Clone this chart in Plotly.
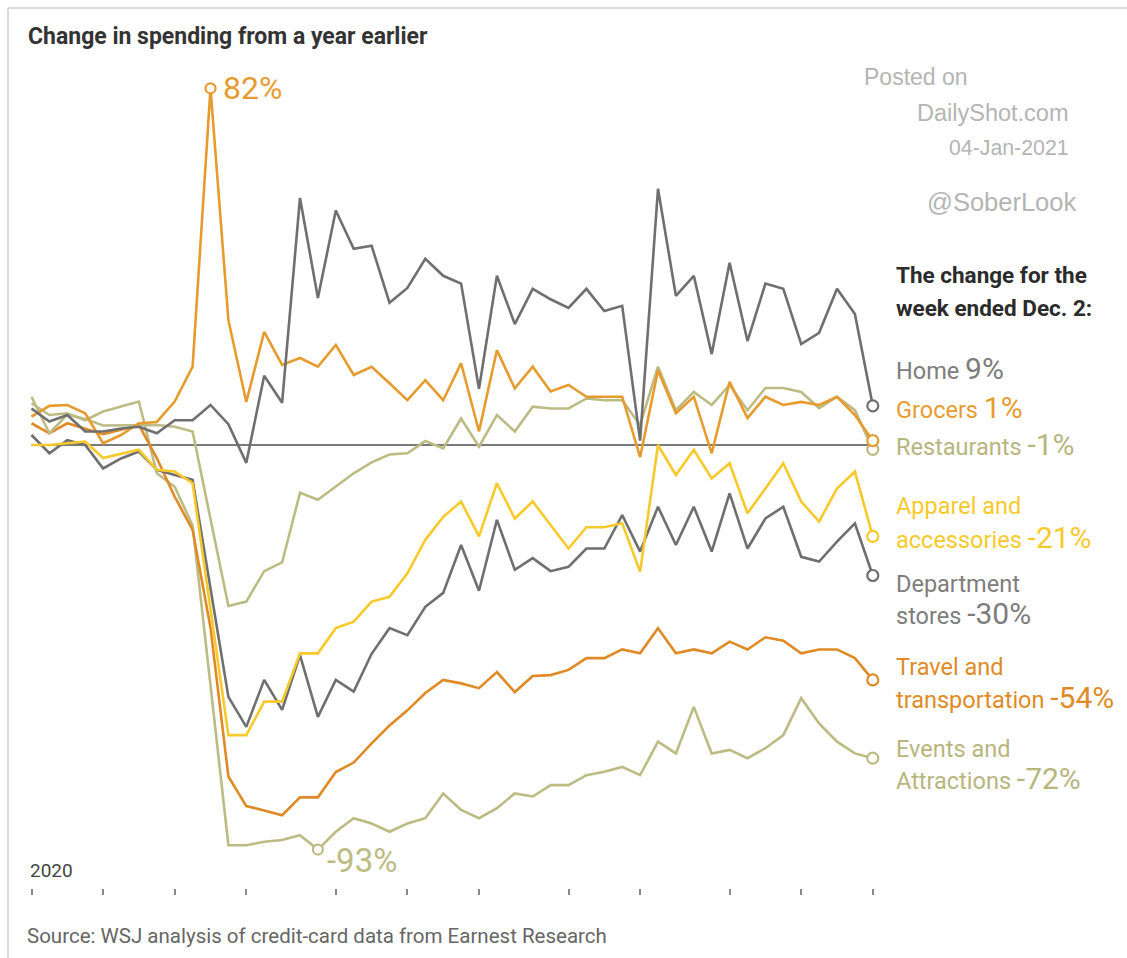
import plotly.graph_objects as go

# ---- data (weekly, week 0 = early Jan 2020 ... week 47 = week ended Dec. 2) ----
week = list(range(48))
month_ticks = [0, 4, 8, 12, 17, 21, 25, 30, 34, 39, 43, 47]

home = [8.4, 5.4, 6.9, 3.1, 3.1, 3.8, 4.2, 2.7, 5.7, 5.7, 9.2, 4.8, -4.1, 15.9, 9.7, 56.8,
        33.8, 53.9, 45.1, 45.8, 32.7, 36.1, 42.8, 38.9, 37.1, 12.9, 38.9, 27.8, 35.9, 33.5,
        31.5, 35.9, 30.8, 32.0, 1.0, 58.9, 34.3, 38.9, 20.9, 41.9, 23.9, 37.1, 35.9, 23.2,
        25.8, 35.9, 30.1, 9]
grocers = [6.5, 9.0, 9.2, 7.3, 0.4, 2.3, 5.0, 5.3, 10.0, 18.0, 82, 28.7, 9.9, 26.0, 18.4,
           20.0, 18.0, 23.0, 16.1, 18.0, 14.2, 10.3, 14.9, 10.3, 18.8, 3.1, 21.8, 13.0, 18.0,
           12.3, 13.8, 11.1, 11.1, 11.1, -2.8, 17.2, 7.3, 11.1, -1.9, 14.5, 6.2, 11.1, 9.2,
           9.9, 9.2, 11.1, 6.9, 1]
restaurants = [11.1, 2.7, 7.0, 6.0, 4.5, 4.5, 4.6, 4.6, 4.2, 3.1, -17, -37, -36, -29, -27,
               -11, -12.6, -9.5, -6.5, -4, -2.2, -1.9, 0.9, -0.8, 6.1, -0.4, 6.9, 3.1, 8.8,
               8.4, 8.4, 10.7, 10.3, 10.3, 4.6, 18.0, 8.0, 12.2, 9.2, 13.8, 8.0, 13.1, 13.1,
               12.2, 8.5, 11.1, 8.0, -1]
apparel = [0, 0, 0.4, 0.8, -3.0, -2.0, -1.1, -5.7, -6.1, -8.8, -38, -66.7, -66.7, -59.0,
           -59.0, -47.9, -47.9, -42.1, -40.6, -36.0, -34.9, -29.5, -21.8, -16.5, -13.0, -21.0,
           -8.8, -16.9, -13.0, -18.4, -23.8, -18.9, -18.9, -18.0, -29.1, 0, -6.9, -1.1, -7.7,
           -4.2, -15.7, -10.0, -4.2, -13.0, -17.6, -10.0, -6.1, -21]
department = [2.3, -1.9, 1.1, 0, -5.4, -3.1, -1.5, -5.7, -6.9, -8.0, -33, -57.9, -64.8, -54.0,
              -60.9, -48.3, -62.5, -54.0, -56.7, -48.0, -42.1, -43.7, -37.2, -34.0, -23.0,
              -33.5, -17.2, -28.7, -26.0, -29.0, -28.0, -23.8, -23.8, -16.1, -24.5, -14.2,
              -23.0, -14.2, -24.5, -11.1, -23.8, -16.9, -14.2, -25.7, -26.8, -22.2, -18.0, -30]
travel = [5.0, 2.7, 5.0, 3.8, 2.5, 3.5, 4.6, -3.0, -11.9, -19.5, -42, -76.2, -83.0, -84.0,
          -85.1, -81.0, -81.0, -75.2, -73.0, -68.6, -64.5, -61.0, -57.0, -54.0, -54.8, -55.9,
          -52.2, -56.8, -53.1, -52.9, -51.7, -49.0, -49.0, -47.0, -47.9, -42.1, -47.9, -47.0,
          -47.9, -45.2, -47.0, -44.2, -45.0, -47.9, -47.0, -47.0, -49.0, -54]
events = [9.6, 6.9, 7.3, 5.7, 7.7, 8.8, 10.0, -6.5, -9.6, -18.5, -56, -92, -92, -91.2, -90.8,
          -89.7, -93, -88.9, -85.8, -87.0, -88.9, -87.0, -85.8, -80.1, -83.9, -85.8, -83.5,
          -80.1, -80.8, -78.2, -78.2, -75.9, -75.1, -74.0, -75.9, -68.2, -70.9, -60.2, -70.9,
          -70.1, -72.0, -69.7, -66.7, -58.2, -64.0, -68.2, -70.9, -72]

# ---- styling ----
GRAY = "#6f6f6f"
ORANGE_G = "#e79b2f"
ORANGE_T = "#e08a26"
OLIVE = "#bdbb84"
YELLOW = "#f8c92b"

series = [
    ("Events and Attractions", events, OLIVE),
    ("Travel and transportation", travel, ORANGE_T),
    ("Department stores", department, GRAY),
    ("Apparel and accessories", apparel, YELLOW),
    ("Restaurants", restaurants, OLIVE),
    ("Grocers", grocers, ORANGE_G),
    ("Home", home, GRAY),
]

FONT = "Roboto, 'Open Sans', sans-serif"
WM_FONT = "'Liberation Sans', Arial, sans-serif"

# plot-area geometry (pixels): left 20, right 890, top 50, bottom 888
L, R, T, B = 20, 237, 50, 70
W_PX, H_PX = 1127 - L - R, 958 - T - B


def xp(px):
    return (px - L) / W_PX


def yp(py):
    return (958 - B - py) / H_PX


fig = go.Figure()

# zero line
fig.add_shape(type="line", xref="x", yref="y", x0=week[0], x1=week[-1], y0=0, y1=0,
              line=dict(color="#7a7a7a", width=2), layer="below")

for name, vals, col in series:
    fig.add_trace(go.Scatter(x=week, y=vals, mode="lines", name=name,
                             line=dict(color=col, width=2.6), hoverinfo="skip",
                             cliponaxis=False))
    fig.add_trace(go.Scatter(x=[week[-1]], y=[vals[-1]], mode="markers",
                             marker=dict(symbol="circle", size=11, color="white",
                                         line=dict(color=col, width=2.2)),
                             hoverinfo="skip", cliponaxis=False))

# peak / trough markers
pk = grocers.index(max(grocers))
tr = events.index(min(events))
fig.add_trace(go.Scatter(x=[week[pk]], y=[grocers[pk]], mode="markers",
                         marker=dict(size=10, color="white", line=dict(color=ORANGE_G, width=2.2)),
                         hoverinfo="skip", cliponaxis=False))
fig.add_trace(go.Scatter(x=[week[tr]], y=[events[tr]], mode="markers",
                         marker=dict(size=10, color="white", line=dict(color=OLIVE, width=2.2)),
                         hoverinfo="skip", cliponaxis=False))

ann = []
ann.append(dict(x=week[pk], y=grocers[pk], xref="x", yref="y", text=f"{grocers[pk]:.0f}%",
                xanchor="left", yanchor="middle", xshift=10, showarrow=False,
                font=dict(family=FONT, size=32, color=ORANGE_G)))
ann.append(dict(x=week[tr], y=events[tr], xref="x", yref="y", text=f"{events[tr]:.0f}%",
                xanchor="left", yanchor="middle", xshift=7, yshift=-11, showarrow=False,
                font=dict(family=FONT, size=33, color=OLIVE)))


def big(v):
    return f'<span style="font-size:30px">{v:.0f}%</span>'


labels = [
    ("Home " + big(home[-1]), 368, "#7d7d7d"),
    ("Grocers " + big(grocers[-1]), 407, ORANGE_G),
    ("Restaurants " + big(restaurants[-1]), 445, "#b7b57e"),
    ("Apparel and", 506, YELLOW),
    ("accessories " + big(apparel[-1]), 537, YELLOW),
    ("Department", 584, "#7d7d7d"),
    ("stores " + big(department[-1]), 613, "#7d7d7d"),
    ("Travel and", 667, ORANGE_T),
    ("transportation " + big(travel[-1]), 697, ORANGE_T),
    ("Events and", 749, "#b7b57e"),
    ("Attractions " + big(events[-1]), 778, "#b7b57e"),
]
for txt, py, col in labels:
    ann.append(dict(x=xp(894), y=yp(py), xref="paper", yref="paper", text=txt,
                    xanchor="left", yanchor="middle", showarrow=False,
                    font=dict(family=FONT, size=23.5, color=col)))

# headings
ann.append(dict(x=xp(894), y=yp(275), xref="paper", yref="paper",
                text="<b>The change for the</b>", xanchor="left", yanchor="middle",
                showarrow=False, font=dict(family=FONT, size=22.5, color="#2b2b2b")))
ann.append(dict(x=xp(894), y=yp(308), xref="paper", yref="paper",
                text="<b>week ended Dec. 2:</b>", xanchor="left", yanchor="middle",
                showarrow=False, font=dict(family=FONT, size=22.5, color="#2b2b2b")))
ann.append(dict(x=xp(26), y=yp(37), xref="paper", yref="paper",
                text="<b>Change in spending from a year earlier</b>", xanchor="left",
                yanchor="middle", showarrow=False,
                font=dict(family=FONT, size=23, color="#333333")))
ann.append(dict(x=xp(28), y=yp(870), xref="paper", yref="paper", text="2020",
                xanchor="left", yanchor="middle", showarrow=False,
                font=dict(family=FONT, size=19, color="#444444")))
ann.append(dict(x=xp(25), y=yp(936), xref="paper", yref="paper",
                text="Source: WSJ analysis of credit-card data from Earnest Research",
                xanchor="left", yanchor="middle", showarrow=False,
                font=dict(family=FONT, size=20.5, color="#666666")))

# watermark
for txt, px, py, sz in [("Posted on", 862, 77, 23), ("DailyShot.com", 915, 113, 23.5),
                        ("04-Jan-2021", 947, 148, 21.3), ("@SoberLook", 925, 202, 25.5)]:
    ann.append(dict(x=xp(px), y=yp(py), xref="paper", yref="paper", text=txt,
                    xanchor="left", yanchor="middle", showarrow=False,
                    font=dict(family=WM_FONT, size=sz, color="#b4b4b4")))

# frame lines (top and left)
fig.add_shape(type="line", xref="paper", yref="paper", x0=xp(8), x1=xp(1140), y0=yp(8), y1=yp(8),
              line=dict(color="#cfcfcf", width=1.5))
fig.add_shape(type="line", xref="paper", yref="paper", x0=xp(8), x1=xp(8), y0=yp(8), y1=yp(970),
              line=dict(color="#cfcfcf", width=1.5))

x0 = week[0] - (31.5 - L) / 17.9
x1 = week[0] + (1127 - R - 31.5) / 17.9
y_top = (445 - T) / 4.35
y_bot = -((958 - B) - 445) / 4.35

fig.update_layout(
    width=1127, height=958,
    margin=dict(l=L, r=R, t=T, b=B),
    paper_bgcolor="white", plot_bgcolor="white",
    showlegend=False,
    annotations=ann,
    xaxis=dict(range=[x0, x1], showgrid=False, zeroline=False, showline=False,
               tickvals=month_ticks, ticktext=[""] * len(month_ticks), ticks="outside",
               ticklen=6, tickwidth=2, tickcolor="#8a8a8a", fixedrange=True),
    yaxis=dict(range=[y_bot, y_top], visible=False, fixedrange=True),
)

fig.write_html("out.html")
